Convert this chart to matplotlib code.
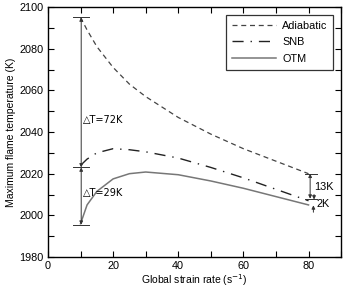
import matplotlib
matplotlib.use("Agg")
import matplotlib.pyplot as plt
from matplotlib.ticker import MultipleLocator

plt.rcParams['font.family'] = ['Liberation Sans', 'DejaVu Sans']

strain = [10, 12, 15, 20, 25, 30, 40, 50, 60, 70, 80]
adiabatic = [2095, 2089, 2081, 2071, 2063, 2057, 2047, 2039, 2032, 2026, 2020]
snb = [2024, 2027, 2030, 2032, 2031.5, 2030.5, 2027.5, 2023, 2018, 2012.5, 2007]
otm = [1996, 2005, 2011.5, 2017.5, 2020, 2020.8, 2019.5, 2016.5, 2013, 2009, 2005]

labels = ["Adiabatic", "SNB", "OTM"]

fig = plt.figure(figsize=(3.44, 2.88), dpi=100)
ax = fig.add_axes([0.1395, 0.1076, 0.852, 0.868])

ax.plot(strain, adiabatic, color='#444444', lw=0.9, ls=(0, (4, 3)), label=labels[0])
ax.plot(strain, snb, color='#222222', lw=1.0, ls=(0, (8, 5, 1, 5)), label=labels[1])
ax.plot(strain, otm, color='#777777', lw=1.1, ls='-', label=labels[2])

ax.set_xlim(0, 90)
ax.set_ylim(1980, 2100)
ax.xaxis.set_major_locator(MultipleLocator(20))
ax.xaxis.set_minor_locator(MultipleLocator(10))
ax.yaxis.set_major_locator(MultipleLocator(20))
ax.yaxis.set_minor_locator(MultipleLocator(10))
ax.tick_params(which='both', direction='in', top=True, right=True, labelsize=7.8, width=0.8)
ax.tick_params(which='major', length=4)
ax.tick_params(which='minor', length=4)
ax.tick_params(axis='x', pad=3)
for s in ax.spines.values():
    s.set_linewidth(1.0)

ax.set_xlabel("Global strain rate (s$^{-1}$)", fontsize=7.5, labelpad=1)
ax.set_ylabel("Maximum flame temperature (K)", fontsize=7.5, labelpad=2)

leg = ax.legend(loc='upper right', fontsize=7.8, frameon=True, fancybox=False,
                edgecolor='black', handlelength=4.0, borderaxespad=0.7,
                labelspacing=0.6, handletextpad=0.6, borderpad=0.55)
leg.get_frame().set_linewidth(0.9)

# annotations
acol = '#333333'
ap = dict(arrowstyle='<|-|>', color=acol, lw=0.7, mutation_scale=5, shrinkA=0, shrinkB=0)
hp = dict(arrowstyle='-|>', color=acol, lw=0.7, mutation_scale=5, shrinkA=0, shrinkB=0)
ax.annotate('', xy=(10.2, 2095), xytext=(10.2, 2023), arrowprops=ap)
ax.annotate('', xy=(10.2, 2023), xytext=(10.2, 1995.5), arrowprops=ap)
for yv in [2095, 2023, 1995.5]:
    ax.plot([7.7, 12.5], [yv, yv], color=acol, lw=0.7)
ax.text(10.8, 2046, "△T=72K", fontsize=7, va='center', ha='left',
        family=['DejaVu Sans'])
ax.text(10.8, 2010.7, "△T=29K", fontsize=7, va='center', ha='left',
        family=['DejaVu Sans'])

ax.annotate('', xy=(80.5, 2020), xytext=(80.5, 2008), arrowprops=ap)
for yv in [2020, 2008]:
    ax.plot([79, 82.5], [yv, yv], color=acol, lw=0.7)
ax.annotate('', xy=(81.7, 2007.6), xytext=(81.7, 2010), arrowprops=hp)
ax.annotate('', xy=(81.5, 2004.8), xytext=(81.5, 2001.5), arrowprops=hp)
ax.text(81.6, 2013.6, "13K", fontsize=7.8, va='center', ha='left')
ax.text(82.3, 2005.6, "2K", fontsize=7.8, va='center', ha='left')

fig.savefig("out.png", dpi=100)
